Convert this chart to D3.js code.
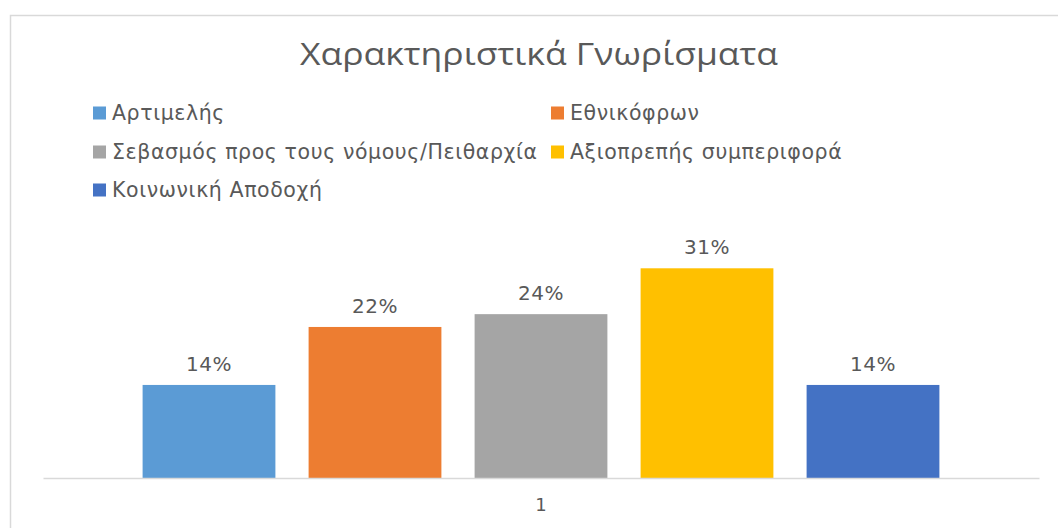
<!DOCTYPE html>
<html>
<head>
<meta charset="utf-8">
<script src="https://cdn.jsdelivr.net/npm/d3@7/dist/d3.min.js"></script>
<style>
  html, body { margin: 0; padding: 0; background: #fff; }
  svg { display: block; }
</style>
</head>
<body>
<svg id="chart" width="1058" height="528"></svg>
<script>
const title = "Χαρακτηριστικά  Γνωρίσματα";
const categories = ["1"];
const seriesNames = ["Αρτιμελής", "Εθνικόφρων", "Σεβασμός προς τους νόμους/Πειθαρχία", "Αξιοπρεπής συμπεριφορά", "Κοινωνική Αποδοχή"];
const seriesValues = [0.138, 0.224, 0.243, 0.311, 0.138];
const seriesColors = ["#5B9BD5", "#ED7D31", "#A5A5A5", "#FFC000", "#4472C4"];
const yDomain = [0, 0.35];

const svg = d3.select("#chart");
const W = 1058, H = 528;
const plot = { left: 43, right: 1039, top: 242, bottom: 478 };

// chart frame
svg.append("rect")
  .attr("x", 10.5).attr("y", 15.5)
  .attr("width", W + 10).attr("height", H + 10)
  .attr("fill", "#fff").attr("stroke", "#d9d9d9").attr("stroke-width", 1.5);

// title
svg.append("text")
  .attr("x", 539).attr("y", 65)
  .attr("text-anchor", "middle")
  .attr("font-family", "'Open Sans', 'Noto Sans', sans-serif")
  .attr("font-size", 31)
  .attr("fill", "#595959")
  .attr("textLength", 478)
  .attr("lengthAdjust", "spacingAndGlyphs")
  .text(title);

// legend
const legendCols = [93, 551];
const legendRows = [113, 152, 190];
const lg = svg.append("g");
seriesNames.forEach((name, i) => {
  const cx = legendCols[i % 2], cy = legendRows[Math.floor(i / 2)];
  lg.append("rect").attr("x", cx).attr("y", cy - 6.5).attr("width", 13).attr("height", 13).attr("fill", seriesColors[i]);
  lg.append("text").attr("x", cx + 19).attr("y", cy).attr("dy", "0.35em")
    .attr("font-family", "'DejaVu Sans', Verdana, sans-serif")
    .attr("font-size", 20.5).attr("letter-spacing", 0.6).attr("fill", "#595959")
    .text(name);
});

// scales
const x0 = d3.scaleBand().domain(categories).range([plot.left, plot.right]).paddingInner(0).paddingOuter(0.125);
const x1 = d3.scaleBand().domain(seriesNames).range([0, x0.bandwidth()]).paddingInner(0.2).paddingOuter(0);
const y = d3.scaleLinear().domain(yDomain).range([plot.bottom, plot.top]);

const groups = svg.selectAll("g.cat").data(categories).join("g").attr("class", "cat")
  .attr("transform", d => `translate(${x0(d)},0)`);

const barData = seriesNames.map((n, i) => ({ name: n, value: seriesValues[i], color: seriesColors[i] }));
groups.selectAll("rect.bar").data(barData).join("rect").attr("class", "bar")
  .attr("x", d => x1(d.name)).attr("width", x1.bandwidth())
  .attr("y", d => y(d.value)).attr("height", d => y(0) - y(d.value))
  .attr("fill", d => d.color);

groups.selectAll("text.lbl").data(barData).join("text").attr("class", "lbl")
  .attr("x", d => x1(d.name) + x1.bandwidth() / 2)
  .attr("y", d => y(d.value) - 14)
  .attr("text-anchor", "middle")
  .attr("font-family", "'DejaVu Sans', Verdana, sans-serif")
  .attr("font-size", 20).attr("letter-spacing", 0.5).attr("fill", "#595959")
  .text(d => d3.format(".0%")(d.value));

// x axis
const xAxis = d3.axisBottom(x0).tickSize(0).tickPadding(20);
const ax = svg.append("g").attr("transform", `translate(0,${plot.bottom})`).call(xAxis);
ax.select(".domain").attr("stroke", "#d9d9d9").attr("stroke-width", 1.5);
ax.selectAll("text").attr("font-family", "'DejaVu Sans', Verdana, sans-serif").attr("font-size", 18).attr("fill", "#595959");
</script>
</body>
</html>
